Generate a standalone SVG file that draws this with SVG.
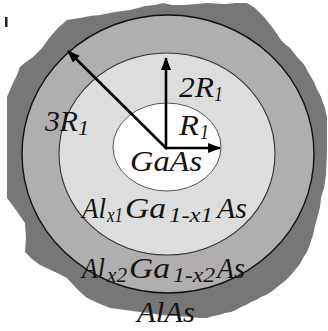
<svg xmlns="http://www.w3.org/2000/svg" width="328" height="331" viewBox="0 0 328 331">
<style>
.t{font-family:"Liberation Serif","Times New Roman",serif;font-style:italic;fill:#141414;}
.big{font-size:30px;}
.sub{font-size:20px;}
.arr{stroke:#000;stroke-width:2.6;fill:none;marker-end:url(#ah);}
</style>
<defs>
<marker id="ah" markerUnits="userSpaceOnUse" markerWidth="14" markerHeight="12" refX="12" refY="5" orient="auto">
<path d="M0,0 L13,5 L0,10 z" fill="#000"/>
</marker>
</defs>
<rect width="328" height="331" fill="#fff"/>
<rect x="5" y="17" width="2.5" height="10" fill="#222"/>
<g id="alas-shell">
<path d="M130,10 L138,8 L145,6 L155,5 L163,3 L172,5 L184,5 L196,4 L207,3 L225,4 L236,3 L247,3 L252,6 L255,8 L260,13 L264,17 L268,22 L272,27 L277,34 L281,40 L286,45 L290,48 L294,53 L297,57 L302,62 L305,66 L308,72 L311,77 L314,82 L316,87 L319,93 L321,97 L323,103 L325,108 L326,113 L327,117 L327,150 L326,175 L324,188 L321,198 L320,207 L318,215 L315,226 L313,235 L310,244 L307,252 L303,258 L300,264 L295,270 L291,275 L286,280 L281,284 L276,288 L271,292 L266,295 L261,297 L256,300 L251,302 L246,305 L241,307 L236,310 L231,312 L225,313 L219,315 L213,316 L207,318 L200,318 L190,317 L175,316 L160,315 L150,313 L140,312 L125,310 L110,308 L98,303 L87,298 L78,290 L67,278 L55,272 L40,265 L32,259 L25,252 L26,238 L25,223 L16,210 L7,198 L7,180 L7,163 L7,130 L7,97 L10,90 L13,83 L17,75 L20,67 L26,62 L33,57 L42,48 L50,37 L58,28 L67,20 L80,18 L90,16 L100,15 L115,12 Z" fill="#777777"/>
</g>
<g id="outer-ring">
<ellipse cx="168" cy="154" rx="146" ry="139" fill="#b0aeae" stroke="#111" stroke-width="1.4"/>
</g>
<g id="middle-ring">
<ellipse cx="167" cy="154" rx="108" ry="101" fill="#dddddd" stroke="#333" stroke-width="1.1"/>
</g>
<g id="core">
<ellipse cx="167" cy="147" rx="54" ry="44" fill="#ffffff" stroke="#555" stroke-width="1"/>
</g>
<g id="connectors">
<line class="arr" x1="166" y1="149" x2="166" y2="58"/>
<line class="arr" x1="165" y1="148" x2="220" y2="148"/>
<line class="arr" x1="167" y1="149" x2="68" y2="51"/>
</g>
<g id="labels">
<text class="t big" x="45" y="131" textLength="33" lengthAdjust="spacingAndGlyphs">3R</text>
<text class="t sub" x="78" y="135" textLength="11" lengthAdjust="spacingAndGlyphs">1</text>
<text class="t big" x="179" y="97" textLength="35" lengthAdjust="spacingAndGlyphs">2R</text>
<text class="t sub" x="214" y="101" textLength="9" lengthAdjust="spacingAndGlyphs">1</text>
<text class="t big" x="179" y="135" textLength="20" lengthAdjust="spacingAndGlyphs">R</text>
<text class="t sub" x="200" y="139" textLength="9" lengthAdjust="spacingAndGlyphs">1</text>
<text class="t big" x="130" y="171" textLength="72" lengthAdjust="spacingAndGlyphs">GaAs</text>
<text class="t big" x="82" y="218" textLength="24" lengthAdjust="spacingAndGlyphs">Al</text>
<text class="t sub" x="107" y="222" textLength="16" lengthAdjust="spacingAndGlyphs">x1</text>
<text class="t big" x="125" y="218" textLength="41" lengthAdjust="spacingAndGlyphs">Ga</text>
<text class="t sub" x="169" y="222" font-size="21" textLength="44" lengthAdjust="spacingAndGlyphs">1-x1</text>
<text class="t big" x="217" y="218" textLength="30" lengthAdjust="spacingAndGlyphs">As</text>
<text class="t big" x="82" y="278" textLength="23" lengthAdjust="spacingAndGlyphs">Al</text>
<text class="t sub" x="107" y="282" textLength="20" lengthAdjust="spacingAndGlyphs">x2</text>
<text class="t big" x="129" y="278" textLength="41" lengthAdjust="spacingAndGlyphs">Ga</text>
<text class="t sub" x="173" y="282" font-size="21" textLength="42" lengthAdjust="spacingAndGlyphs">1-x2</text>
<text class="t big" x="217" y="278" textLength="28" lengthAdjust="spacingAndGlyphs">As</text>
<text class="t big" x="137" y="322" textLength="58" lengthAdjust="spacingAndGlyphs">AlAs</text>
</g>
</svg>
